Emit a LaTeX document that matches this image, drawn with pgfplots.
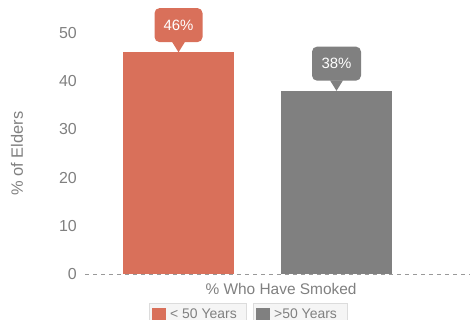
\documentclass[border=0pt]{standalone}
\usepackage{pgfplots}
\pgfplotsset{compat=1.18}
\usepackage{fontspec}
\setmainfont{Liberation Sans}
\definecolor{cred}{RGB}{217,112,90}
\definecolor{cgray}{RGB}{128,128,128}
\definecolor{ctext}{RGB}{128,128,128}
\definecolor{legfill}{RGB}{245,245,245}
\definecolor{legdraw}{RGB}{220,220,220}
\begin{document}
\begin{tikzpicture}
\begin{axis}[
  name=ax,
  at={(85bp,-274bp)}, anchor=south west,
  scale only axis, width=385bp, height=241bp,
  xmin=-0.592, xmax=1.845, ymin=0, ymax=50,
  ytick={0,10,20,30,40,50},
  xtick={0.649}, xticklabels={\% Who Have Smoked},
  major tick length=0pt,
  axis line style={draw=none},
  /pgf/number format/assume math mode=true,
  yticklabel style={font=\fontsize{16}{18}\selectfont, text=ctext, anchor=east, inner sep=0pt, xshift=-8bp},
  xticklabel style={font=\fontsize{15.5}{18}\selectfont, text=ctext, anchor=north, inner sep=0pt, yshift=-9bp},
  ylabel={\% of Elders},
  ylabel style={at={(axis description cs:-0.1766,0.5)}, anchor=center, font=\fontsize{16.5}{18}\selectfont, text=ctext},
  clip=false,
]
\draw[color=black!40, line width=0.9bp, dash pattern=on 4bp off 4bp] (rel axis cs:0,0) -- (rel axis cs:1,0);
\addplot[ybar, bar shift=0pt, bar width=0.7025, fill=cred, draw=none] coordinates {(0,46)};
\addplot[ybar, bar shift=0pt, bar width=0.7025, fill=cgray, draw=none] coordinates {(1,38)};
% callouts
\fill[cred] (axis cs:0,46) -- ++(-6.5bp,10.5bp) -- ++(13bp,0bp) -- cycle;
\node[fill=cred, rounded corners=5bp, minimum width=48bp, minimum height=34bp, anchor=south, yshift=10bp, text=white, inner sep=0pt, font=\fontsize{15}{17}\selectfont] at (axis cs:0,46) {46\%};
\fill[cgray] (axis cs:1,38) -- ++(-6.5bp,10.5bp) -- ++(13bp,0bp) -- cycle;
\node[fill=cgray, rounded corners=5bp, minimum width=49bp, minimum height=34bp, anchor=south, yshift=10bp, text=white, inner sep=0pt, font=\fontsize{15}{17}\selectfont] at (axis cs:1,38) {38\%};
\end{axis}
% legend
\draw[draw=legdraw, fill=legfill, line width=0.8bp] (149bp,-303bp) rectangle (246bp,-326bp);
\fill[cred] (152bp,-308bp) rectangle (166bp,-322bp);
\node[anchor=base west, inner sep=0pt, text=ctext, font=\fontsize{14}{16}\selectfont] at (170bp,-318.5bp) {< 50 Years};
\draw[draw=legdraw, fill=legfill, line width=0.8bp] (253bp,-303bp) rectangle (347bp,-326bp);
\fill[cgray] (256bp,-308bp) rectangle (270bp,-322bp);
\node[anchor=base west, inner sep=0pt, text=ctext, font=\fontsize{14}{16}\selectfont] at (274bp,-318.5bp) {>50 Years};
\pgfresetboundingbox
\path (0,0) rectangle (474bp,-320bp);
\end{tikzpicture}
\end{document}
